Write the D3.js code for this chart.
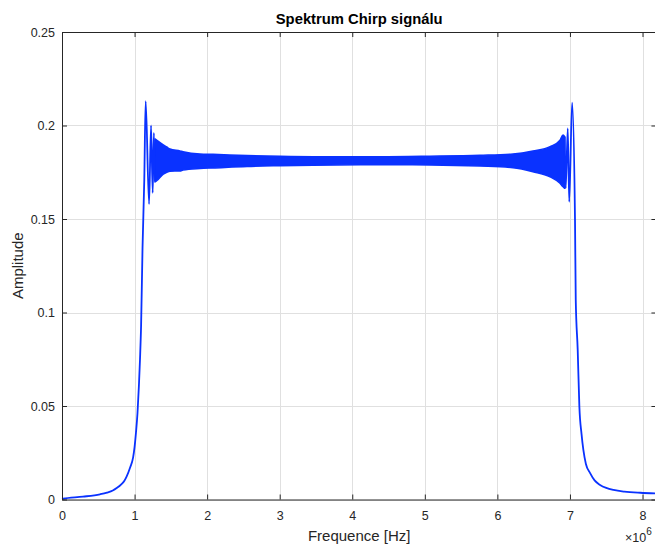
<!DOCTYPE html>
<html>
<head>
<meta charset="utf-8">
<script src="https://cdn.jsdelivr.net/npm/d3@7"></script>
<style>
  body { margin: 0; background: #fff; }
  svg { display: block; font-family: "Liberation Sans", Arial, sans-serif; }
</style>
</head>
<body>
<div id="chart"></div>
<script>
// --- data (frequency in MHz, amplitude) ---
const xTicks = [0, 1, 2, 3, 4, 5, 6, 7, 8];
const yTicks = [0, 0.05, 0.1, 0.15, 0.2, 0.25];
const xMax = 8.192;

// rising edge and first ringing peaks
const riseFreq = [0, 0.014, 0.29, 0.524, 0.62, 0.70, 0.754, 0.82, 0.86, 0.89, 0.94, 0.98, 1.0, 1.02, 1.04, 1.06, 1.075, 1.09, 1.11, 1.134, 1.153, 1.2, 1.227, 1.25, 1.266, 1.282];
const riseAmp  = [0.0003, 0.0004, 0.0015, 0.0028, 0.0037, 0.0048, 0.0061, 0.0082, 0.0100, 0.0122, 0.0172, 0.0225, 0.028, 0.036, 0.046, 0.061, 0.075, 0.093, 0.135, 0.171, 0.213, 0.158, 0.200, 0.164, 0.196, 0.170];

// dense oscillation band (envelopes)
const bandFreq  = [1.282, 1.309, 1.396, 1.443, 1.488, 1.626, 1.668, 1.902, 2.081, 2.55, 3.005, 3.46, 4.38, 5.07, 5.76, 6.215, 6.49, 6.726, 6.863, 6.905, 6.928];
const bandUpper = [0.1928, 0.1920, 0.1896, 0.1885, 0.1874, 0.1864, 0.1860, 0.1848, 0.1846, 0.1839, 0.1835, 0.1833, 0.1833, 0.1836, 0.1841, 0.1848, 0.1864, 0.1887, 0.1922, 0.1949, 0.1940];
const bandLower = [0.1698, 0.1706, 0.1740, 0.1750, 0.1756, 0.1757, 0.1762, 0.1770, 0.1773, 0.1781, 0.1785, 0.1788, 0.1790, 0.1789, 0.1783, 0.1774, 0.1753, 0.1726, 0.1691, 0.1672, 0.1664];

// last ringing peaks and falling edge
const fallFreq = [6.928, 6.942, 6.97, 6.99, 7.03, 7.07, 7.08, 7.107, 7.13, 7.16, 7.185, 7.22, 7.28, 7.34, 7.415, 7.5, 7.6, 7.75, 7.97, 8.192];
const fallAmp  = [0.194, 0.1664, 0.1985, 0.1592, 0.2122, 0.149, 0.107, 0.080, 0.0496, 0.0350, 0.0265, 0.0190, 0.0140, 0.0102, 0.0078, 0.0062, 0.0051, 0.0042, 0.0036, 0.0033];

// --- layout ---
const width = 655, height = 545;
const mLeft = 62, mTop = 32, mBottom = 499.5;
const pxPerUnit = 72.5625;
const mRight = mLeft + xMax * pxPerUnit;
const blue = "#0a32ff";
const axisColor = "#262626";

const svg = d3.select("#chart").append("svg")
  .attr("width", width)
  .attr("height", height);

const x = d3.scaleLinear().domain([0, xMax]).range([mLeft, mRight]);
const y = d3.scaleLinear().domain([0, 0.25]).range([mBottom, mTop]);

// grid
const grid = svg.append("g").attr("stroke", "#e0e0e0").attr("stroke-width", 1);
grid.selectAll("line.gx").data(xTicks).join("line")
  .attr("class", "gx")
  .attr("x1", d => Math.round(x(d)) + 0.5).attr("x2", d => Math.round(x(d)) + 0.5)
  .attr("y1", mTop).attr("y2", mBottom);
grid.selectAll("line.gy").data(yTicks).join("line")
  .attr("class", "gy")
  .attr("y1", d => Math.round(y(d)) + 0.5).attr("y2", d => Math.round(y(d)) + 0.5)
  .attr("x1", mLeft).attr("x2", mRight);

// data
const plot = svg.append("g");
const line = d3.line().x(d => x(d[0])).y(d => y(d[1])).curve(d3.curveMonotoneX);

const band = d3.area()
  .x(d => x(d[0])).y0(d => y(d[2])).y1(d => y(d[1]))
  .curve(d3.curveMonotoneX);
plot.append("path")
  .datum(bandFreq.map((f, i) => [f, bandUpper[i], bandLower[i]]))
  .attr("d", band)
  .attr("fill", blue)
  .attr("stroke", blue)
  .attr("stroke-width", 1.5)
  .attr("stroke-linejoin", "round");

plot.append("path")
  .datum(riseFreq.map((f, i) => [f, riseAmp[i]]))
  .attr("d", line)
  .attr("fill", "none")
  .attr("stroke", blue)
  .attr("stroke-width", 1.8)
  .attr("stroke-linejoin", "round");

plot.append("path")
  .datum(fallFreq.map((f, i) => [f, fallAmp[i]]))
  .attr("d", line)
  .attr("fill", "none")
  .attr("stroke", blue)
  .attr("stroke-width", 1.8)
  .attr("stroke-linejoin", "round");

// axes (ticks inward, box on all sides)
const fmtY = d => d === 0 ? "0" : String(+d.toFixed(2));
const styleAxis = g => {
  g.select(".domain").attr("stroke", axisColor);
  g.selectAll(".tick line").attr("stroke", axisColor);
  g.selectAll(".tick text").attr("fill", axisColor).style("font-size", "12.5px");
};

svg.append("g")
  .attr("transform", `translate(0,${mBottom})`)
  .call(d3.axisBottom(x).tickValues(xTicks).tickFormat(d3.format("d")).tickSize(-5).tickSizeOuter(0).tickPadding(12))
  .call(styleAxis);
svg.append("g")
  .attr("transform", `translate(0,${mTop})`)
  .call(d3.axisTop(x).tickValues(xTicks).tickFormat("").tickSize(-5).tickSizeOuter(0))
  .call(styleAxis);
svg.append("g")
  .attr("transform", `translate(${mLeft},0)`)
  .call(d3.axisLeft(y).tickValues(yTicks).tickFormat(fmtY).tickSize(-5).tickSizeOuter(0).tickPadding(7))
  .call(styleAxis);
svg.append("g")
  .attr("transform", `translate(${mRight},0)`)
  .call(d3.axisRight(y).tickValues(yTicks).tickFormat("").tickSize(-5).tickSizeOuter(0))
  .call(styleAxis);

// labels
svg.append("text")
  .attr("x", (mLeft + mRight) / 2).attr("y", 24)
  .attr("text-anchor", "middle")
  .attr("font-weight", "bold")
  .attr("fill", "#000")
  .style("font-size", "14.8px")
  .text("Spektrum Chirp signálu");

svg.append("text")
  .attr("x", (mLeft + mRight) / 2).attr("y", 541)
  .attr("text-anchor", "middle")
  .attr("fill", axisColor)
  .style("font-size", "15px")
  .text("Frequence [Hz]");

svg.append("text")
  .attr("transform", `translate(23,${(mTop + mBottom) / 2}) rotate(-90)`)
  .attr("text-anchor", "middle")
  .attr("fill", axisColor)
  .style("font-size", "15px")
  .text("Amplitude");

const expo = svg.append("text")
  .attr("x", 625).attr("y", 542)
  .attr("fill", axisColor)
  .style("font-size", "12.5px");
expo.append("tspan").text("×10");
expo.append("tspan").attr("dy", -7).style("font-size", "10px").text("6");
</script>
</body>
</html>
